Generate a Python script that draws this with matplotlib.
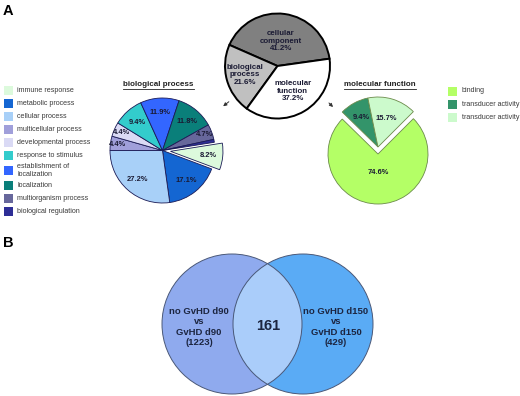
import numpy as np
import matplotlib
matplotlib.use('Agg')
import matplotlib.pyplot as plt
from matplotlib.patches import Circle, Rectangle

plt.rcParams['font.family'] = ['Liberation Sans', 'DejaVu Sans']

# ---------------------------------------------------------------------------
# data
# ---------------------------------------------------------------------------
go_names = ['cellular\ncomponent', 'biological\nprocess', 'molecular\nfunction']
go_values = [41.2, 21.6, 37.2]
go_colors = ['#808080', '#c0c0c0', '#ffffff']

bp_names = ['immune response', 'metabolic process', 'cellular process',
            'multicellular process', 'developmental process',
            'response to stimulus', 'establishment of\nlocalization',
            'localization', 'multiorganism process', 'biological regulation']
bp_values = [8.2, 17.1, 27.2, 4.4, 4.4, 9.4, 11.9, 11.8, 4.7, 0.9]
bp_colors = ['#dcfadc', '#1466d2', '#a8d0f8', '#a09fda', '#dadaf5',
             '#33cccc', '#3366ff', '#0a7f7a', '#67679b', '#2e2e96']

mf_names = ['binding', 'transducer activity', 'transducer activity']
mf_values = [74.6, 9.4, 15.7]
mf_colors = ['#b4ff66', '#33946a', '#ccfacc']

venn_left = 'no GvHD d90\nvs\nGvHD d90\n(1223)'
venn_right = 'no GvHD d150\nvs\nGvHD d150\n(429)'
venn_shared = 161

# ---------------------------------------------------------------------------
W, H = 520, 396
fig = plt.figure(figsize=(W / 100, H / 100), dpi=100)
ax = fig.add_axes([0, 0, 1, 1])
txtc = '#1a1a33'


def Y(y):
    # pixel row (from top) -> data y
    return H - y


def place_labels(wedges, texts, dists, size, r):
    for w, t, d in zip(wedges, texts, dists):
        if not t:
            continue
        a = np.deg2rad((w.theta1 + w.theta2) / 2)
        cx, cy = w.center
        ax.text(cx + d * r * np.cos(a), cy + d * r * np.sin(a), t,
                ha='center', va='center', fontsize=size,
                fontweight='bold', color=txtc, linespacing=1.15)


# top pie: GO categories
r_go = 52.5
wg, _ = ax.pie(go_values, colors=go_colors, startangle=8, radius=r_go,
               center=(277.5, Y(66)), counterclock=True,
               wedgeprops=dict(edgecolor='black', linewidth=1.4))
place_labels(wg, ['%s\n%.1f%%' % (n, v) for n, v in zip(go_names, go_values)],
             [0.48, 0.64, 0.56], 5.7, r_go)

# biological process pie (explode is in pixels here)
r_bp = 52.5
explode = [8] + [0] * (len(bp_values) - 1)
wb, _ = ax.pie(bp_values, colors=bp_colors, startangle=9, radius=r_bp,
               center=(162.5, Y(150.5)), counterclock=False, explode=explode,
               wedgeprops=dict(edgecolor='#1a1a55', linewidth=0.6))
place_labels(wb, ['%.1f%%' % v if v > 2 else '' for v in bp_values],
             [0.72 if v > 6 else 0.86 for v in bp_values], 5.4, r_bp)

# molecular function pie
r_mf = 50
mc = (378, Y(154))
wm, _ = ax.pie(mf_values, colors=mf_colors, startangle=45, radius=r_mf,
               center=mc, counterclock=False,
               wedgeprops=dict(edgecolor='#6b8a4a', linewidth=0.6))
for w in wm[1:]:
    w.set_center((mc[0], mc[1] + 7))
place_labels(wm, ['%.1f%%' % v for v in mf_values], [0.38, 0.68, 0.6], 5.4, r_mf)

# arrows from top pie
ap = dict(arrowstyle='-|>', color='#333333', lw=0.7, mutation_scale=5)
ax.annotate('', xy=(221, Y(108)), xytext=(231, Y(100)), arrowprops=ap)
ax.annotate('', xy=(335, Y(109)), xytext=(327, Y(101)), arrowprops=ap)

# pie titles (underlined)
titles = []
titles.append(ax.text(158.5, Y(85), 'biological process', ha='center',
                      va='center', fontsize=5.8, fontweight='bold', color='#222222'))
titles.append(ax.text(380, Y(85), 'molecular function', ha='center',
                      va='center', fontsize=5.8, fontweight='bold', color='#222222'))

# legends
y = 90.7
for name, c in zip(bp_names, bp_colors):
    n = name.count('\n')
    y += 2.0 * n
    ax.add_patch(Rectangle((4, Y(y) - 4.5), 9, 9, facecolor=c, edgecolor='none'))
    ax.text(17, Y(y), name, ha='left', va='center', fontsize=5.1,
            color='#3a3a3a', linespacing=1.1)
    y += 13 + 2.0 * n

for i, (name, c) in enumerate(zip(mf_names, mf_colors)):
    yy = 91 + 13.2 * i
    ax.add_patch(Rectangle((448, Y(yy) - 4.5), 9, 9, facecolor=c, edgecolor='none'))
    ax.text(461.5, Y(yy), name, ha='left', va='center', fontsize=5.1, color='#3a3a3a')

# panel letters
ax.text(3, Y(11), 'A', ha='left', va='center', fontsize=10.5, fontweight='bold')
ax.text(3, Y(243), 'B', ha='left', va='center', fontsize=10.5, fontweight='bold')

# venn diagram
rv = 70
cl = (232, Y(324))
cr = (303, Y(324))
left = Circle(cl, rv, facecolor='#8faaee', edgecolor='none')
right = Circle(cr, rv, facecolor='#5aabf5', edgecolor='none')
ax.add_patch(left)
ax.add_patch(right)
mid = Circle(cr, rv, facecolor='#aacdfa', edgecolor='none')
ax.add_patch(mid)
mid.set_clip_path(left)
for c in (cl, cr):
    ax.add_patch(Circle(c, rv, facecolor='none', edgecolor='#4a5878', linewidth=0.7))

ax.text(199, Y(327), venn_left, ha='center', va='center', fontsize=6.8,
        fontweight='bold', color='#1c2540', linespacing=1.15)
ax.text(336, Y(327), venn_right, ha='center', va='center', fontsize=6.8,
        fontweight='bold', color='#1c2540', linespacing=1.15)
ax.text(268, Y(326), str(venn_shared), ha='center', va='center', fontsize=10.5,
        fontweight='bold', color='#1c2540')

ax.set_xlim(0, W)
ax.set_ylim(0, H)
ax.set_aspect('equal')
ax.axis('off')

# underline the titles
fig.canvas.draw()
rend = fig.canvas.get_renderer()
for t in titles:
    bb = t.get_window_extent(rend)
    ax.plot([bb.x0, bb.x1], [bb.y0 - 0.3, bb.y0 - 0.3], color='#222222', lw=0.6)

fig.savefig('out.png', dpi=100, facecolor='white')
